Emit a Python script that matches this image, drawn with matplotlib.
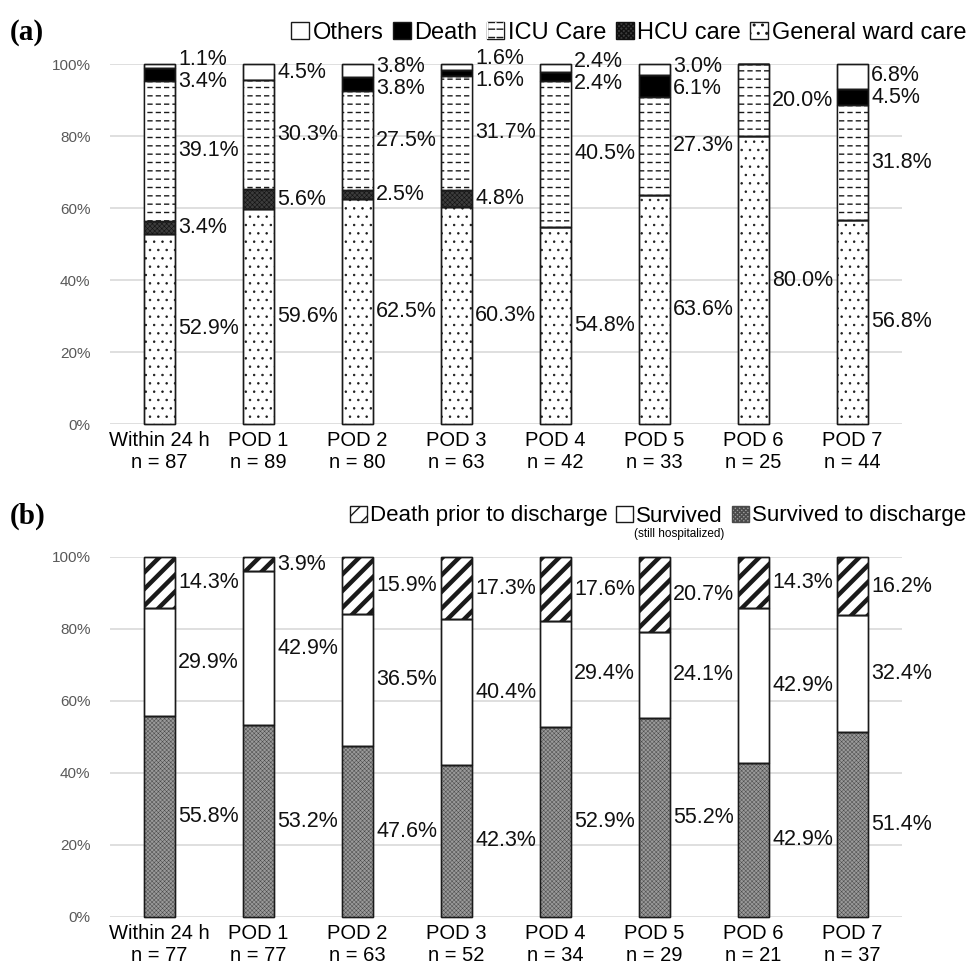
import numpy as np
import matplotlib.pyplot as plt

plt.rcParams['font.family'] = ['Liberation Sans', 'DejaVu Sans']

# Categories and sample sizes
categories = ['Within 24 h', 'POD 1', 'POD 2', 'POD 3', 'POD 4', 'POD 5', 'POD 6', 'POD 7']
n_a = [87, 89, 80, 63, 42, 33, 25, 44]
n_b = [77, 77, 63, 52, 34, 29, 21, 37]

# Panel (a): disposition (%), bottom -> top
general_ward = [52.9, 59.6, 62.5, 60.3, 54.8, 63.6, 80.0, 56.8]
hcu_care = [3.4, 5.6, 2.5, 4.8, 0, 0, 0, 0]
icu_care = [39.1, 30.3, 27.5, 31.7, 40.5, 27.3, 20.0, 31.8]
death_a = [3.4, 0, 3.8, 1.6, 2.4, 6.1, 0, 4.5]
others = [1.1, 4.5, 3.8, 1.6, 2.4, 3.0, 0, 6.8]

# Panel (b): outcome (%), bottom -> top
survived_discharge = [55.8, 53.2, 47.6, 42.3, 52.9, 55.2, 42.9, 51.4]
survived_hosp = [29.9, 42.9, 36.5, 40.4, 29.4, 24.1, 42.9, 32.4]
death_prior = [14.3, 3.9, 15.9, 17.3, 17.6, 20.7, 14.3, 16.2]

W, H = 969, 964
fig = plt.figure(figsize=(W / 100, H / 100), dpi=100)

ax_a = fig.add_axes([110 / W, 1 - 424 / H, 792 / W, 360 / H])
ax_b = fig.add_axes([110 / W, 1 - 917 / H, 792 / W, 360 / H])

BAR_W = 0.32
x = np.arange(len(categories))
EDGE = '#1a1a1a'


def style_axis(ax, n):
    ax.set_xlim(-0.5, len(categories) - 0.5)
    ax.set_ylim(0, 1)
    ax.set_yticks(np.arange(0, 1.01, 0.2))
    ax.set_yticklabels([f'{int(round(v * 100))}%' for v in np.arange(0, 1.01, 0.2)],
                       color='#595959', fontsize=11)
    ax.set_xticks(x)
    ax.set_xticklabels([f'{c}\nn = {k}' for c, k in zip(categories, n)],
                       fontsize=14.5, linespacing=1.2)
    ax.tick_params(length=0, axis='x', pad=5)
    ax.tick_params(length=0, axis='y', pad=14)
    ax.yaxis.grid(True, color='#d9d9d9', lw=1.2)
    ax.set_axisbelow(True)
    for s in ax.spines.values():
        s.set_visible(False)


def set_hlw(container, lw):
    for p in container:
        if hasattr(p, 'set_hatch_linewidth'):
            p.set_hatch_linewidth(lw)


def stack(ax, series, styles):
    bottom = np.zeros(len(categories))
    handles = []
    for vals, st in zip(series, styles):
        v = np.array(vals) / 100
        c = ax.bar(x, v, BAR_W, bottom=bottom, facecolor=st['fc'], hatch=st.get('hatch'),
                   edgecolor=st.get('hc', EDGE), lw=1.0, label=st['label'], clip_on=False, zorder=2)
        set_hlw(c, st.get('hlw', 0.8))
        handle = c
        if st.get('dashed'):
            # break the horizontal lines into dashes with white vertical strokes
            w = ax.bar(x, v, BAR_W, bottom=bottom, facecolor='none', hatch='||',
                       edgecolor='white', lw=0, clip_on=False, zorder=2.2)
            set_hlw(w, 2.2)
            handle = (c, w)
        # outline on top
        ax.bar(x, v, BAR_W, bottom=bottom, facecolor='none', edgecolor=EDGE, lw=1.0,
               clip_on=False, zorder=2.4)
        handles.append(handle)
        bottom = bottom + v
    return handles


def add_labels(ax, series, d=0.062):
    for i in range(len(categories)):
        pos, txt = [], []
        b = 0
        for vals in series:
            v = vals[i] / 100
            if vals[i] > 0:
                pos.append(b + v / 2)
                txt.append(f'{vals[i]:.1f}%')
            b += v
        for _ in range(20):
            for j in range(1, len(pos)):
                if pos[j] - pos[j - 1] < d:
                    mid = (pos[j] + pos[j - 1]) / 2
                    pos[j - 1], pos[j] = mid - d / 2, mid + d / 2
        for y, t in zip(pos, txt):
            ax.text(x[i] + BAR_W / 2 + 0.03, y, t, ha='left', va='center', fontsize=15.5,
                    color='#111111', zorder=3)


styles_a = [
    dict(fc='white', hatch='..', label='General ward care', hlw=0.55),
    dict(fc='#3c3c3c', hatch='xxxxxxx', hc='#111111', label='HCU care', hlw=0.4),
    dict(fc='white', hatch='--', label='ICU Care', hlw=1.0, dashed=True),
    dict(fc='black', label='Death'),
    dict(fc='white', label='Others'),
]
series_a = [general_ward, hcu_care, icu_care, death_a, others]
handles_a = stack(ax_a, series_a, styles_a)
add_labels(ax_a, series_a)
style_axis(ax_a, n_a)

styles_b = [
    dict(fc='#9a9a9a', hatch='xxxxxxxx', hc='#4a4a4a', label='Survived to discharge', hlw=0.35),
    dict(fc='white', label='Survived'),
    dict(fc='white', hatch='//', label='Death prior to discharge', hlw=3.2),
]
series_b = [survived_discharge, survived_hosp, death_prior]
handles_b = stack(ax_b, series_b, styles_b)
add_labels(ax_b, series_b)
style_axis(ax_b, n_b)

leg_kw = dict(frameon=False, handlelength=0.75, handleheight=0.75, handletextpad=0.15,
              columnspacing=0.4, borderaxespad=0, borderpad=0)
leg_a = fig.legend(handles_a[::-1], [s['label'] for s in styles_a[::-1]], loc='center right',
                   bbox_to_anchor=(966 / W, 1 - 33 / H), ncol=5, fontsize=17, **leg_kw)
leg_b = fig.legend(handles_b[::-1], [s['label'] for s in styles_b[::-1]], loc='center right',
                   bbox_to_anchor=(966 / W, 1 - 516 / H), ncol=3, fontsize=16, **leg_kw)

fig.text(10 / W, 1 - 33 / H, '(a)', fontsize=21, fontweight='bold', family='Liberation Serif',
         ha='left', va='center')
fig.text(10 / W, 1 - 516 / H, '(b)', fontsize=21, fontweight='bold', family='Liberation Serif',
         ha='left', va='center')

# small note under "Survived" in legend (b)
fig.canvas.draw()
bb = leg_b.get_texts()[1].get_window_extent()
fig.text((bb.x0 + bb.x1) / 2 / W, (bb.y0 - 1) / H, '(still hospitalized)', fontsize=8.5,
         ha='center', va='top')

fig.savefig('out.png', dpi=100)
